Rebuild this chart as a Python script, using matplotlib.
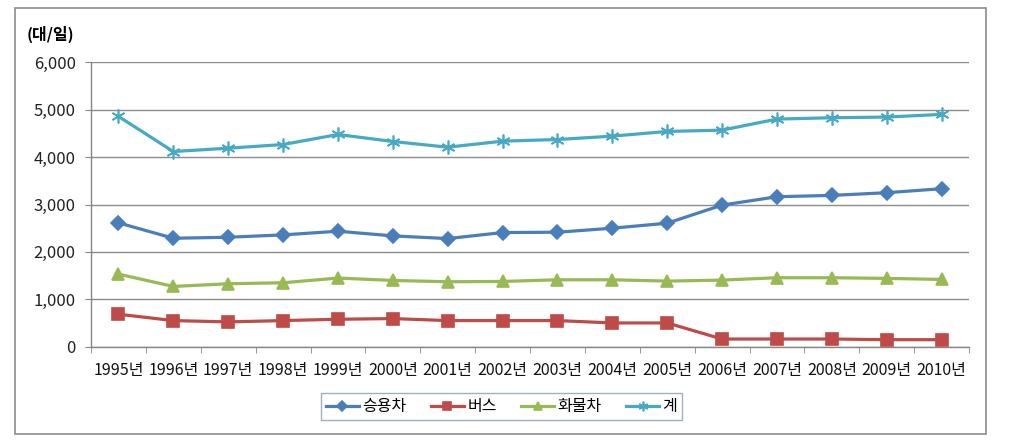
import matplotlib
matplotlib.use("Agg")
import matplotlib.pyplot as plt
import numpy as np
from matplotlib.patches import Rectangle

plt.rcParams["font.family"] = ["Noto Sans CJK KR", "DejaVu Sans"]

years = [f"{y}년" for y in range(1995, 2011)]
passenger = [2613, 2288, 2309, 2359, 2436, 2338, 2281, 2408, 2415, 2500, 2606, 2987, 3164, 3192, 3249, 3333]
bus = [685, 551, 523, 551, 579, 593, 551, 551, 551, 501, 501, 162, 162, 162, 148, 148]
truck = [1532, 1271, 1328, 1349, 1448, 1398, 1370, 1377, 1412, 1412, 1384, 1405, 1455, 1455, 1441, 1419]
total = [4859, 4117, 4188, 4265, 4477, 4329, 4209, 4336, 4371, 4442, 4541, 4569, 4802, 4830, 4845, 4901]

series = [
    ("승용차", passenger, "#4a7ebb", "D", 7),
    ("버스", bus, "#be4b48", "s", 8),
    ("화물차", truck, "#98b954", "^", 8),
    ("계", total, "#46aac5", (6, 2, 0), 10),
]

fig = plt.figure(figsize=(10.09, 4.47), dpi=100)
ax = fig.add_axes([91 / 1009, 1 - 346.7 / 447, (969 - 91) / 1009, (346.7 - 62.3) / 447])

x = np.arange(len(years))
for name, vals, color, marker, ms in series:
    ax.plot(x, vals, color=color, lw=2.3, marker=marker, markersize=ms,
            markerfacecolor=color, markeredgecolor=color, markeredgewidth=1.2,
            label=name)

ax.set_xlim(-0.5, len(years) - 0.5)
ax.set_ylim(0, 6000)
ax.set_yticks(range(0, 6001, 1000))
ax.set_yticklabels([f"{v:,}" for v in range(0, 6001, 1000)])
ax.set_xticks(x)
ax.set_xticklabels(years)
ax.set_xticks(np.arange(-0.5, len(years)), minor=True)
ax.tick_params(axis="x", which="major", length=0, pad=11, labelsize=11.5, colors="#111111")
ax.tick_params(axis="x", which="minor", length=4, color="#868686", direction="out")
ax.tick_params(axis="y", length=4, color="#868686", pad=7, labelsize=12, labelcolor="#222222")
ax.grid(axis="y", color="#8c8c8c", lw=1)
ax.set_axisbelow(True)
for s in ["top", "right"]:
    ax.spines[s].set_visible(False)
for s in ["left", "bottom"]:
    ax.spines[s].set_color("#868686")
    ax.spines[s].set_linewidth(1)

fig.text(27 / 1009, 1 - 34 / 447, "(대/일)", fontsize=11.5, fontweight="bold",
         ha="left", va="center")

leg = fig.legend(loc="center", bbox_to_anchor=(0.497, 1 - 406.7 / 447), ncol=4,
                 frameon=True, fancybox=False, fontsize=11.5, handlelength=2.1,
                 columnspacing=1.5, handletextpad=0.2, borderpad=0.3,
                 markerscale=0.7)
leg.get_frame().set_edgecolor("#8a9bb5")
leg.get_frame().set_linewidth(1)

fig.patches.append(Rectangle((15 / 1009, 1 - 434 / 447), 971 / 1009, 426 / 447,
                             transform=fig.transFigure, fill=False,
                             edgecolor="#8c8c8c", lw=1.2))

fig.savefig("out.png", dpi=100)
